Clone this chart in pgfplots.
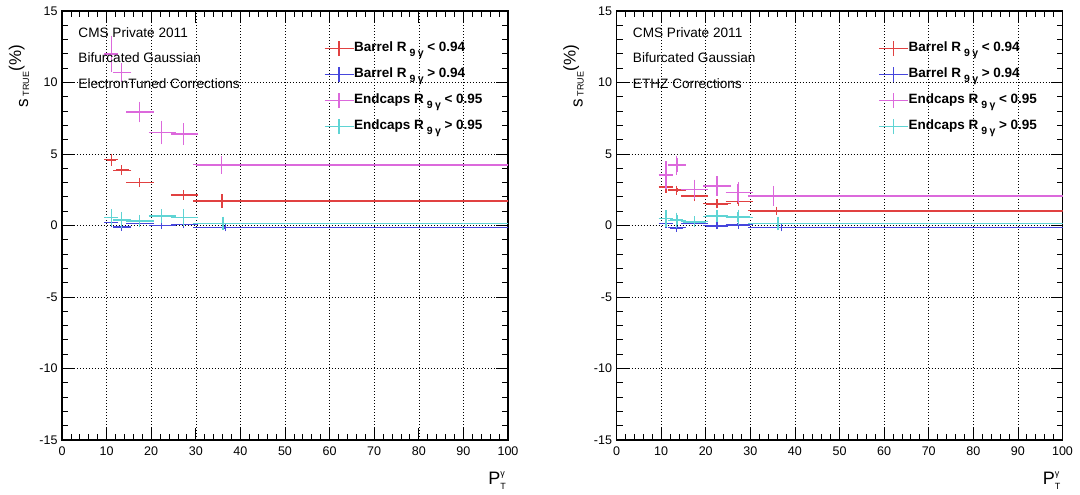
\documentclass[border=0pt]{standalone}
\usepackage{fontspec}
\setmainfont{Liberation Sans}
\usepackage{pgfplots}
\pgfplotsset{compat=1.18}
\usepackage{pgfplotstable}

\definecolor{cRed}{RGB}{225,65,65}
\definecolor{cBlue}{RGB}{70,70,220}
\definecolor{cMag}{RGB}{220,105,220}
\definecolor{cCyan}{RGB}{95,212,212}

\newcommand\rsub{\kern3pt\raisebox{-4.5pt}{\fontsize{10.5}{10.5}\selectfont 9\kern2.5pt γ}\kern3.5pt}

% ---- left panel (ElectronTuned) ----
\pgfplotstableread{
x y xm xp ey
11.1 4.60 1.1 0.9 0.23
13.3 3.86 1.3 1.7 0.17
17.4 3.00 2.4 2.6 0.15
27.2 2.13 2.2 2.8 0.17
35.9 1.71 5.9 64.1 0.30
}\LRed
\pgfplotstableread{
x y xm xp ey
11.1 0.20 1.1 0.9 0.15
13.3 -0.10 1.3 1.7 0.10
17.4 0.15 2.4 2.6 0.10
22.3 0.00 2.3 2.7 0.08
27.2 0.06 2.2 2.8 0.08
36.6 -0.13 6.6 63.4 0.10
}\LBlue
\pgfplotstableread{
x y xm xp ey
11.1 12.00 1.1 0.9 1.10
13.3 10.70 1.3 1.7 0.50
17.4 7.94 2.4 2.6 0.55
22.3 6.49 2.3 2.7 0.65
27.2 6.40 2.2 2.8 0.58
35.8 4.25 5.8 64.2 0.47
}\LMag
\pgfplotstableread{
x y xm xp ey
11.1 0.55 1.1 0.9 0.40
13.3 0.38 1.3 1.7 0.40
17.4 0.31 2.4 2.6 0.25
22.3 0.66 2.3 2.7 0.30
27.2 0.57 2.2 2.8 0.40
36.1 0.15 6.1 63.9 0.30
}\LCyan

% ---- right panel (ETHZ) ----
\pgfplotstableread{
x y xm xp ey
11.1 2.70 1.1 0.9 0.25
13.5 2.47 1.5 1.5 0.15
17.5 2.05 2.5 2.5 0.18
22.5 1.52 2.5 2.5 0.15
27.3 1.68 2.3 2.7 0.15
35.9 1.03 5.9 64.1 0.12
}\RRed
\pgfplotstableread{
x y xm xp ey
11.1 0.14 1.1 0.9 0.15
13.5 -0.16 1.5 1.5 0.10
17.5 0.16 2.5 2.5 0.10
22.5 -0.02 2.5 2.5 0.08
27.3 0.05 2.3 2.7 0.10
37.0 -0.14 7.0 63.0 0.10
}\RBlue
\pgfplotstableread{
x y xm xp ey
11.1 3.52 1.1 0.9 0.80
13.5 4.22 1.5 1.5 0.50
17.5 2.52 2.5 2.5 0.52
22.5 2.77 2.5 2.5 0.50
27.3 2.31 2.3 2.7 0.57
35.2 2.07 5.2 64.8 0.52
}\RMag
\pgfplotstableread{
x y xm xp ey
11.1 0.49 1.1 0.9 0.40
13.5 0.37 1.5 1.5 0.35
17.5 0.26 2.5 2.5 0.20
22.5 0.65 2.5 2.5 0.25
27.3 0.58 2.3 2.7 0.35
36.2 0.14 6.2 63.8 0.30
}\RCyan

\pgfplotsset{
  cms/.style={
    scale only axis, width=446pt, height=429pt,
    xmin=0, xmax=100, ymin=-15, ymax=15,
    xtick={0,10,...,100}, ytick={-15,-10,...,15},
    minor x tick num=4, minor y tick num=4,
    xmajorgrids, ymajorgrids,
    major grid style={black, line width=0.6pt, dash pattern=on 0.8pt off 2.2pt},
    tick align=inside,
    major tick length=12pt, minor tick length=6pt,
    axis line style={line width=1.4pt},
    every tick/.style={black, line width=0.8pt},
    tick label style={font=\fontsize{12.5}{12.5}\selectfont},
    xticklabel style={yshift=-3pt},
    yticklabel style={xshift=-1pt},
    /pgf/number format/assume math mode=true,
    xlabel={P\rlap{\raisebox{8pt}{\fontsize{9}{9}\selectfont γ}}\raisebox{-5pt}{\fontsize{9}{9}\selectfont T}},
    xlabel style={at={(rel axis cs:1,0)}, anchor=base east, yshift=-45pt, xshift=-2pt, inner sep=0pt, font=\fontsize{18}{18}\selectfont},
    ylabel={\raisebox{-7pt}{s}\,\raisebox{-8pt}{\fontsize{9}{9}\selectfont TRUE}(\%)},
    ylabel style={at={(rel axis cs:-0.0919,0.9207)}, anchor=base east, inner sep=0pt, font=\fontsize{17}{17}\selectfont},
    legend style={at={(rel axis cs:0.5874,0.9308)}, anchor=north west, draw=none, fill=none,
      inner sep=0pt, outer sep=0pt, row sep=9.9pt,
      font=\bfseries\fontsize{13.5}{13.5}\selectfont,
      nodes={inner sep=0pt, text height=11pt, text depth=5pt},
      /tikz/every even column/.append style={column sep=9pt}},
    legend cell align=left,
  },
  ebR/.style={draw=none, mark=none,
    legend image code/.code={\draw[line width=1.1pt,cRed] (0pt,0pt) -- (29pt,0pt); \draw[line width=1.1pt,cRed] (14.5pt,-7.5pt) -- (14.5pt,7.5pt);},
    error bars/.cd, x dir=both, x explicit, y dir=both, y explicit,
    error bar style={draw=cRed, line width=1.6pt, solid},
    error mark options={draw=cRed, line width=1.4pt, mark size=2.5pt, solid}, /pgfplots/.cd},
  ebB/.style={draw=none, mark=none,
    legend image code/.code={\draw[line width=1.1pt,cBlue] (0pt,0pt) -- (29pt,0pt); \draw[line width=1.1pt,cBlue] (14.5pt,-7.5pt) -- (14.5pt,7.5pt);},
    error bars/.cd, x dir=both, x explicit, y dir=both, y explicit,
    error bar style={draw=cBlue, line width=1.6pt, solid},
    error mark options={draw=cBlue, line width=1.4pt, mark size=2.5pt, solid}, /pgfplots/.cd},
  ebM/.style={draw=none, mark=none,
    legend image code/.code={\draw[line width=1.1pt,cMag] (0pt,0pt) -- (29pt,0pt); \draw[line width=1.1pt,cMag] (14.5pt,-7.5pt) -- (14.5pt,7.5pt);},
    error bars/.cd, x dir=both, x explicit, y dir=both, y explicit,
    error bar style={draw=cMag, line width=1.6pt, solid},
    error mark options={draw=cMag, line width=1.4pt, mark size=2.5pt, solid}, /pgfplots/.cd},
  ebC/.style={draw=none, mark=none,
    legend image code/.code={\draw[line width=1.1pt,cCyan] (0pt,0pt) -- (29pt,0pt); \draw[line width=1.1pt,cCyan] (14.5pt,-7.5pt) -- (14.5pt,7.5pt);},
    error bars/.cd, x dir=both, x explicit, y dir=both, y explicit,
    error bar style={draw=cCyan, line width=1.6pt, solid},
    error mark options={draw=cCyan, line width=1.4pt, mark size=2.5pt, solid}, /pgfplots/.cd},
}

\begin{document}
\begin{tikzpicture}
\useasboundingbox (-62pt,-55pt) rectangle (1018pt,440pt);

\begin{axis}[cms, at={(0pt,0pt)}, anchor=south west]
\addplot[ebR] table[x=x, y=y, x error minus=xm, x error plus=xp, y error=ey] {\LRed};
\addlegendentry{Barrel R\rsub< 0.94}
\addplot[ebB] table[x=x, y=y, x error minus=xm, x error plus=xp, y error=ey] {\LBlue};
\addlegendentry{Barrel R\rsub> 0.94}
\addplot[ebM] table[x=x, y=y, x error minus=xm, x error plus=xp, y error=ey] {\LMag};
\addlegendentry{Endcaps R\rsub< 0.95}
\addplot[ebC] table[x=x, y=y, x error minus=xm, x error plus=xp, y error=ey] {\LCyan};
\addlegendentry{Endcaps R\rsub> 0.95}
\node[anchor=base west, inner sep=0pt, font=\fontsize{13.6}{13.6}\selectfont] at (rel axis cs:0.0365,0.9387) {CMS Private 2011};
\node[anchor=base west, inner sep=0pt, font=\fontsize{13.6}{13.6}\selectfont] at (rel axis cs:0.0365,0.8788) {Bifurcated Gaussian};
\node[anchor=base west, inner sep=0pt, font=\fontsize{13.6}{13.6}\selectfont] at (rel axis cs:0.0365,0.8189) {ElectronTuned Corrections};
\end{axis}

\begin{axis}[cms, at={(554.5pt,0pt)}, anchor=south west]
\addplot[ebR] table[x=x, y=y, x error minus=xm, x error plus=xp, y error=ey] {\RRed};
\addlegendentry{Barrel R\rsub< 0.94}
\addplot[ebB] table[x=x, y=y, x error minus=xm, x error plus=xp, y error=ey] {\RBlue};
\addlegendentry{Barrel R\rsub> 0.94}
\addplot[ebM] table[x=x, y=y, x error minus=xm, x error plus=xp, y error=ey] {\RMag};
\addlegendentry{Endcaps R\rsub< 0.95}
\addplot[ebC] table[x=x, y=y, x error minus=xm, x error plus=xp, y error=ey] {\RCyan};
\addlegendentry{Endcaps R\rsub> 0.95}
\node[anchor=base west, inner sep=0pt, font=\fontsize{13.6}{13.6}\selectfont] at (rel axis cs:0.0365,0.9387) {CMS Private 2011};
\node[anchor=base west, inner sep=0pt, font=\fontsize{13.6}{13.6}\selectfont] at (rel axis cs:0.0365,0.8788) {Bifurcated Gaussian};
\node[anchor=base west, inner sep=0pt, font=\fontsize{13.6}{13.6}\selectfont] at (rel axis cs:0.0365,0.8189) {ETHZ Corrections};
\end{axis}
\end{tikzpicture}
\end{document}
